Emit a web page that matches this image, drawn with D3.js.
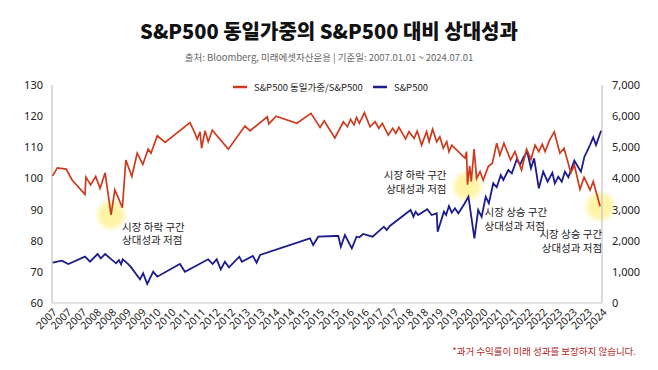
<!DOCTYPE html>
<html>
<head>
<meta charset="utf-8">
<script src="https://cdn.jsdelivr.net/npm/d3@7"></script>
<style>
  html, body { margin: 0; padding: 0; background: #fff; }
  svg { display: block; }
  text { font-family: "Noto Sans CJK KR", "Noto Sans", sans-serif; }
</style>
</head>
<body>
<svg id="chart" width="658" height="370"></svg>
<script>
// ---------- DATA ----------
const titleText = "S&P500 동일가중의 S&P500 대비 상대성과";
const subtitleText = "출처: Bloomberg, 미래에셋자산운용 | 기준일: 2007.01.01 ~ 2024.07.01";
const footnoteText = "*과거 수익률이 미래 성과를 보장하지 않습니다.";
const seriesNames = ["S&P500 동일가중/S&P500", "S&P500"];

const xTickLabels = ["2007","2007","2007","2008","2008","2009","2009","2010","2010","2011","2011","2012","2012","2013","2013","2014","2014","2015","2015","2015","2016","2016","2017","2017","2018","2018","2019","2019","2020","2020","2021","2021","2022","2022","2023","2023","2023","2024"];
const leftTicks = [60, 70, 80, 90, 100, 110, 120, 130];
const rightTicks = [0, 1000, 2000, 3000, 4000, 5000, 6000, 7000];

// Relative performance (equal weight / S&P500), fractional years
const ratioDates = [2007.02,2007.17,2007.45,2007.64,2008.05,2008.08,2008.23,2008.39,2008.53,2008.69,2008.88,2009.00,2009.24,2009.35,2009.54,2009.71,2009.89,2010.06,2010.15,2010.35,2010.60,2011.39,2011.55,2011.62,2011.71,2011.76,2011.87,2011.97,2012.10,2012.61,2013.14,2013.30,2013.85,2013.90,2014.13,2014.79,2015.24,2015.53,2015.66,2016.00,2016.27,2016.40,2016.50,2016.61,2016.69,2016.78,2016.94,2017.12,2017.28,2017.40,2017.51,2017.70,2017.84,2017.94,2018.04,2018.13,2018.25,2018.36,2018.52,2018.62,2018.76,2018.92,2019.00,2019.11,2019.24,2019.34,2019.45,2019.56,2019.63,2019.72,2020.14,2020.19,2020.22,2020.29,2020.34,2020.43,2020.51,2020.62,2020.72,2020.88,2021.01,2021.15,2021.25,2021.38,2021.59,2021.73,2021.94,2022.10,2022.24,2022.37,2022.49,2022.60,2022.69,2022.81,2022.98,2023.16,2023.29,2023.51,2023.62,2023.80,2023.93,2024.12,2024.22,2024.44];
const ratioValues = [100.8,103.4,103.0,99.5,94.9,100.4,97.9,100.6,96.8,101.8,88.3,96.3,90.6,105.9,100.6,108.1,104.5,109.4,108.1,113.7,111.6,117.9,114.5,112.6,115.0,109.7,115.3,111.8,115.5,109.4,116.8,115.3,119.8,117.5,120.0,117.7,120.9,116.4,118.5,113.0,118.2,116.6,119.0,117.2,119.6,117.7,121.1,116.6,118.2,116.1,117.7,113.9,116.1,114.5,116.4,114.8,112.7,115.0,112.9,115.2,110.7,115.0,111.8,115.8,111.8,113.4,109.7,111.8,108.6,110.7,106.5,108.6,98.0,104.0,99.0,109.4,100.0,102.2,99.5,103.8,104.9,111.3,107.5,111.3,105.9,108.6,102.7,109.4,106.1,110.7,108.6,111.0,108.6,111.8,115.0,108.1,109.7,101.8,104.3,96.5,100.4,96.3,99.0,91.1];

// S&P500 index level
const spxDates = [2007.02,2007.31,2007.52,2008.05,2008.21,2008.45,2008.55,2008.69,2009.04,2009.13,2009.20,2009.25,2009.40,2009.50,2009.80,2009.90,2010.03,2010.22,2010.35,2010.91,2011.07,2011.23,2011.97,2012.11,2012.24,2012.37,2012.50,2012.63,2012.96,2013.04,2013.39,2013.51,2013.62,2015.21,2015.31,2015.47,2016.00,2016.11,2016.19,2016.32,2016.54,2016.69,2016.78,2016.90,2017.20,2017.56,2017.65,2017.75,2018.41,2018.50,2018.57,2018.65,2018.94,2019.08,2019.24,2019.27,2019.47,2019.54,2019.63,2019.72,2019.82,2019.93,2020.12,2020.25,2020.44,2020.56,2020.67,2020.80,2020.90,2021.04,2021.15,2021.28,2021.36,2021.52,2021.63,2021.79,2021.89,2022.00,2022.12,2022.24,2022.34,2022.49,2022.63,2022.77,2022.92,2023.00,2023.11,2023.22,2023.32,2023.43,2023.62,2023.83,2023.94,2024.02,2024.12,2024.22,2024.31,2024.47];
const spxValues = [1294,1358,1252,1487,1326,1573,1435,1573,1274,1380,1242,1403,1274,1166,761,954,610,1005,845,1166,1252,1005,1403,1252,1403,1082,1326,1146,1487,1326,1509,1294,1541,2078,1862,2129,2151,2151,1808,2183,1756,2129,2110,2216,2129,2450,2344,2472,2986,2771,2932,2826,3009,2826,2880,2290,2932,2826,3115,2900,3041,2880,3179,3413,2078,2986,2771,3413,3201,3843,3715,4110,3950,4271,4164,4614,4431,4678,4858,4325,4646,3683,4216,3895,4184,3843,4056,3895,4216,4036,4569,4216,4698,4858,5073,5321,5073,5533];

// Annotations (date, relative-performance value at the highlighted low)
const noteDates = [2008.88, 2020.22, 2020.22, 2024.44];
const noteValues = [88.3, 97.5, 97.5, 91.0];
const noteLines = [
  ["시장 하락 구간", "상대성과 저점"],
  ["시장 하락 구간", "상대성과 저점"],
  ["시장 상승 구간", "상대성과 저점"],
  ["시장 상승 구간", "상대성과 저점"]
];
const glowDates = [2008.88, 2020.22, 2024.44];
const glowValues = [88.3, 97.5, 91.0];

// ---------- LAYOUT / STYLE ----------
const W = 658, H = 370;
const plot = { left: 52, right: 602, top: 85, bottom: 303 };
const RED = "#cd3b1e", BLUE = "#1c1c8e", AXIS = "#c4c4c4";
const noteOffsets = [
  { dx: 11, dy: 16, anchor: "start" },
  { dx: -21, dy: -7, anchor: "end" },
  { dx: 17, dy: 30, anchor: "start" },
  { dx: 2, dy: 32, anchor: "end" }
];

const svg = d3.select("#chart");

const x = d3.scaleLinear().domain([2007.0, 2024.5]).range([plot.left, plot.right]);
const yL = d3.scaleLinear().domain([60, 130]).range([plot.bottom, plot.top]);
const yR = d3.scaleLinear().domain([0, 7000]).range([plot.bottom, plot.top]);
const xCat = d3.scalePoint().domain(d3.range(xTickLabels.length)).range([plot.left, plot.right]);

// Title
svg.append("text").attr("x", W / 2).attr("y", 39).attr("text-anchor", "middle")
  .attr("font-size", 20).attr("font-weight", 900).attr("fill", "#111").text(titleText);
svg.append("text").attr("x", W / 2).attr("y", 61).attr("text-anchor", "middle")
  .attr("font-size", 9.5).attr("fill", "#666").text(subtitleText);

// Glow circles
const defs = svg.append("defs");
const grad = defs.append("radialGradient").attr("id", "glow");
grad.append("stop").attr("offset", "0%").attr("stop-color", "#fff3a0").attr("stop-opacity", 1);
grad.append("stop").attr("offset", "60%").attr("stop-color", "#fff3a0").attr("stop-opacity", 0.9);
grad.append("stop").attr("offset", "100%").attr("stop-color", "#fff3a0").attr("stop-opacity", 0);
svg.append("g").selectAll("circle").data(d3.range(glowDates.length)).join("circle")
  .attr("cx", i => x(glowDates[i])).attr("cy", i => yL(glowValues[i])).attr("r", 17)
  .attr("fill", "url(#glow)");

// Axes lines
const axG = svg.append("g").attr("stroke", AXIS).attr("stroke-width", 1.2);
axG.append("line").attr("x1", plot.left).attr("x2", plot.left).attr("y1", plot.top).attr("y2", plot.bottom);
axG.append("line").attr("x1", plot.right).attr("x2", plot.right).attr("y1", plot.top).attr("y2", plot.bottom);
axG.append("line").attr("x1", plot.left).attr("x2", plot.right).attr("y1", plot.bottom).attr("y2", plot.bottom);

// Left axis
const leftAxis = svg.append("g").attr("transform", `translate(${plot.left - 9},0)`)
  .call(d3.axisLeft(yL).tickValues(leftTicks).tickSize(0).tickPadding(0).tickFormat(d3.format("d")));
leftAxis.select(".domain").remove();
leftAxis.selectAll("text").attr("font-size", 11).attr("fill", "#222")
  .style("font-family", "'Noto Sans', sans-serif");

// Right axis
const rightAxis = svg.append("g").attr("transform", `translate(${plot.right + 10},0)`)
  .call(d3.axisRight(yR).tickValues(rightTicks).tickSize(0).tickPadding(0).tickFormat(d3.format(",")));
rightAxis.select(".domain").remove();
rightAxis.selectAll("text").attr("font-size", 11).attr("fill", "#222")
  .style("font-family", "'Noto Sans', sans-serif");

// X labels
const xAxis = svg.append("g").attr("transform", `translate(0,${plot.bottom})`)
  .call(d3.axisBottom(xCat).tickSize(0).tickFormat(i => xTickLabels[i]));
xAxis.select(".domain").remove();
xAxis.selectAll("text")
  .attr("font-size", 10.5).attr("fill", "#222").attr("text-anchor", "end")
  .attr("dy", null).attr("y", 0)
  .attr("transform", "translate(5,10) rotate(-45)")
  .style("font-family", "'Noto Sans', sans-serif");

// Lines
const ratioData = ratioDates.map((d, i) => [d, ratioValues[i]]);
const spxData = spxDates.map((d, i) => [d, spxValues[i]]);
svg.append("path").datum(spxData).attr("fill", "none").attr("stroke", BLUE).attr("stroke-width", 1.8)
  .attr("stroke-linejoin", "miter")
  .attr("d", d3.line().x(d => x(d[0])).y(d => yR(d[1])));
svg.append("path").datum(ratioData).attr("fill", "none").attr("stroke", RED).attr("stroke-width", 1.7)
  .attr("stroke-linejoin", "miter")
  .attr("d", d3.line().x(d => x(d[0])).y(d => yL(d[1])));

// Legend
const legend = svg.append("g").attr("transform", "translate(233,87)");
const legItems = [{ name: seriesNames[0], color: RED, x: 0 }, { name: seriesNames[1], color: BLUE, x: 140 }];
legItems.forEach(it => {
  legend.append("line").attr("x1", it.x).attr("x2", it.x + 14).attr("y1", 0).attr("y2", 0)
    .attr("stroke", it.color).attr("stroke-width", 2.5);
  legend.append("text").attr("x", it.x + 21).attr("y", 3.5).attr("font-size", 9.5).attr("fill", "#222").text(it.name);
});

// Annotations
noteLines.forEach((lines, i) => {
  const o = noteOffsets[i];
  const bx = x(noteDates[i]) + o.dx, by = yL(noteValues[i]) + o.dy;
  const t = svg.append("text").attr("text-anchor", o.anchor).attr("font-size", 10.5).attr("fill", "#222");
  lines.forEach((l, k) => t.append("tspan").attr("x", bx).attr("y", by + k * 13.5).text(l));
});

// Footnote
svg.append("text").attr("x", 636).attr("y", 355).attr("text-anchor", "end")
  .attr("font-size", 9.5).attr("fill", "#b3261e").text(footnoteText);
</script>
</body>
</html>
